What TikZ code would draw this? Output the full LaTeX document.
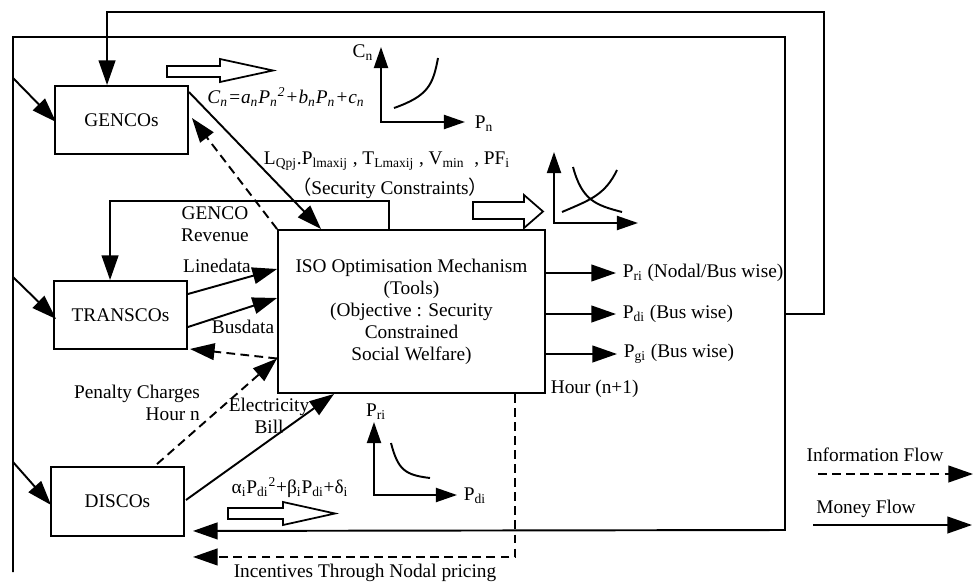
\documentclass[tikz,border=0pt]{standalone}
\usepackage{fontspec}
\setmainfont{Liberation Serif}
\newfontfamily\cjkfont{Noto Sans CJK SC}
\usetikzlibrary{arrows.meta,calc,positioning}

\tikzset{
  money/.style={line width=1.1pt, -{Triangle[length=14pt,width=9.5pt]}},
  info/.style={money, dash pattern=on 5pt off 3pt},
  axes/.style={line width=1.1pt, {Triangle[length=12pt,width=8pt]}-{Triangle[length=12pt,width=8pt]}},
  agent/.style={draw, line width=1.1pt, minimum width=2.66cm, minimum height=1.36cm},
}

\begin{document}
\begin{tikzpicture}[x=0.02cm, y=-0.02cm, line width=1.1pt, font=\fontsize{11}{12.5}\selectfont]
    \useasboundingbox (0,0) rectangle (979,581);

    % The market players and the ISO
    \node[agent] (gen) at (121.5,120) {GENCOs};
    \node[agent] (trans) at (120.5,315) {TRANSCOs};
    \node[agent, minimum height=1.38cm] (disco) at (117.5,501.5) {DISCOs};
    \node[draw, minimum width=5.34cm, minimum height=3.26cm, align=center] (iso) at (411.5,311.5)
        {ISO Optimisation Mechanism\\(Tools)\\(Objective : Security\\Constrained\\Social Welfare)};

    % Labels
    \node (cost) at (286,97) {\itshape C\textsubscript{n}=a\textsubscript{n}P\textsubscript{n}\textsuperscript{2}+b\textsubscript{n}P\textsubscript{n}+c\textsubscript{n}};
    \node (limits) at (387,161) {L\textsubscript{Qpj}.P\textsubscript{lmaxij} , T\textsubscript{Lmaxij} , V\textsubscript{min} \ , PF\textsubscript{i}};
    \node (secur) at (390,188) {{\cjkfont （}Security Constraints{\cjkfont ）}};
    \node[align=center] (revenue) at (215,224) {GENCO\\Revenue};
    \node (linedata) at (217,266) {Linedata};
    \node (busdata) at (243,327) {Busdata};
    \node[align=right] (penalty) at (137,403) {Penalty Charges\\Hour n};
    \node[align=center] (bill) at (269,416) {Electricity\\Bill};
    \node (benefit) at (290,488) {α\textsubscript{i}P\textsubscript{di}\textsuperscript{2}+β\textsubscript{i}P\textsubscript{di}+δ\textsubscript{i}};
    \node (incent) at (365,573) {Incentives Through Nodal pricing};
    \node[anchor=west] (pri) at (616,273) {P\textsubscript{ri} (Nodal/Bus wise)};
    \node[anchor=west] (pdi) at (616,314) {P\textsubscript{di} (Bus wise)};
    \node[anchor=west] (pgi) at (617,354) {P\textsubscript{gi} (Bus wise)};
    \node[anchor=west] (hour) at (544,389) {Hour (n+1)};
    \node (infolbl) at (875,455) {Information Flow};
    \node (moneylbl) at (866,509) {Money Flow};

    % Outer frame, ending in the money arrow back to the DISCOs
    \draw[money] (13,572) -- (13,37) -- (785,37) -- (785,530) -- ($(disco.south east)+(8,-6)$);
    \foreach \y/\nm/\dx/\dy in {78/gen/2/2, 277/trans/3/4, 462/disco/1/3.5}
        \draw[money] (13,\y) -- ($(\nm.west)+(\dx,\dy)$);

    % Loop back to the GENCOs
    \draw[money] (785,314) -- (824,314) -- (824,12) -| ($(gen.north west)+(53,0)$);

    % GENCO revenue
    \draw[money] ($(iso.north west)+(112,0)$) -- ++(0,-28) -| ($(trans.north west)+(57,0)$);

    % Flows between the players and the ISO
    \draw[money] ($(gen.north east)+(0,7)$) -- ($(iso.north west)+(44,0)$);
    \draw[info] (iso.north west) -- ($(gen.east)+(3,-2)$);
    \draw[money] ($(trans.east)+(0,-21)$) -- ($(iso.west)+(0,-42.5)$);
    \draw[money] ($(trans.east)+(0,12)$) -- ($(iso.west)+(0,-13.5)$);
    \draw[info] ($(iso.west)+(0,47)$) -- ($(trans.south east)+(2,-1)$);
    \draw[info] ($(disco.north)+(39.5,-2)$) -- ($(iso.west)+(0,47)$);
    \draw[money] ($(disco.east)+(1,-1.5)$) -- ($(iso.south west)+(57,0)$);
    \draw[info] ($(iso.south east)+(-31,0)$) |- ($(disco.south east)+(8,20)$);

    % Outputs of the ISO
    \foreach \out in {pri, pdi, pgi}
        \draw[money] (iso.east |- \out.west) -- (\out.west);

    % Block arrows
    \draw[line width=1pt] (167,66) -- (220,66) -- (220,59) -- (273,70.5) -- (220,82) -- (220,77) -- (167,77) -- cycle;
    \draw[line width=1pt] (473,202) -- (524,202) -- (524,195) -- (543,211.5) -- (524,228) -- (524,219) -- (473,219) -- cycle;
    \draw[line width=1pt] (228,508) -- (283,508) -- (283,502) -- (335,513.5) -- (283,525) -- (283,519) -- (228,519) -- cycle;

    % Cost curve
    \draw[axes] (381,47) -- (381,122) -- (465,122);
    \node (cnlbl) at (363,53) {C\textsubscript{n}};
    \node (pnlbl) at (484,124) {P\textsubscript{n}};
    \draw (394,108) .. controls (428,96) and (433,85) .. (438,58);

    % Supply and demand curves
    \draw[axes] (554,152) -- (554,223) -- (638,223);
    \draw (573,167) .. controls (582,200) and (595,205) .. (622,212);
    \draw (562,212) .. controls (590,200) and (605,195) .. (617,170);

    % Price curve
    \draw[axes] (374,422) -- (374,495) -- (457,495);
    \node (prlbl) at (376,412) {P\textsubscript{ri}};
    \node (pdlbl) at (475,496) {P\textsubscript{di}};
    \draw (391,443) .. controls (398,470) and (405,475) .. (430,478);

    % Legend
    \draw[info] (818,474) -- (973,474);
    \draw[money] (813,525) -- (972,525);
\end{tikzpicture}
\end{document}
